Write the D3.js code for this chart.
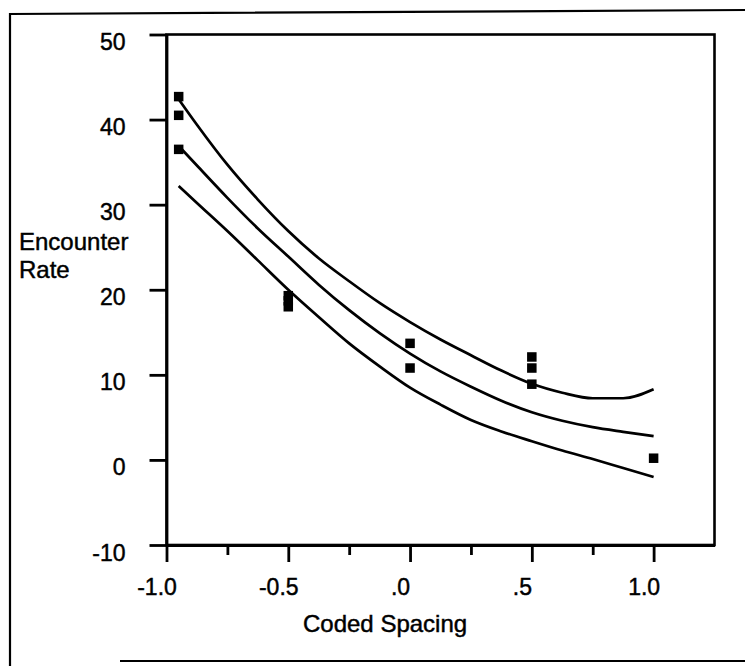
<!DOCTYPE html>
<html>
<head>
<meta charset="utf-8">
<script src="https://cdn.jsdelivr.net/npm/d3@7"></script>
<style>
  body { margin: 0; background: #fff; }
  svg text { font-family: "Liberation Sans", Arial, Helvetica, sans-serif; fill: #000; stroke: #000; stroke-width: 0.45px; }
</style>
</head>
<body>
<div id="chart"></div>
<script>
// observed points
const pointX = [-0.95, -0.95, -0.95, -0.5, -0.5, -0.5, 0, 0, 0.5, 0.5, 0.5, 1.0];
const pointY = [42.7, 40.5, 36.5, 19.3, 18.7, 18.0, 13.7, 10.8, 12.1, 10.8, 8.9, 0.2];

// fitted curve and its band
const curveX = [-0.95, -0.875, -0.75, -0.625, -0.5, -0.375, -0.25, -0.125, 0, 0.125, 0.25, 0.375, 0.5, 0.625, 0.75, 0.875, 1.0];
const upper  = [42.4, 39.4, 34.7, 30.6, 26.9, 23.7, 21.0, 18.45, 16.2, 14.15, 12.3, 10.5, 8.95, 7.9, 7.25, 7.25, 8.3];
const middle = [36.9, 34.6, 30.8, 27.2, 23.9, 20.6, 17.6, 14.9, 12.5, 10.4, 8.6, 6.95, 5.6, 4.6, 3.85, 3.3, 2.8];
const lower  = [32.2, 30.2, 26.9, 23.45, 20.0, 16.8, 13.7, 11.0, 8.5, 6.5, 4.7, 3.35, 2.2, 1.1, 0.1, -0.95, -2.0];

const xMajor = [-1.0, -0.5, 0, 0.5, 1.0];
const xLabels = ["-1.0", "-0.5", ".0", ".5", "1.0"];
const xMinor = [-0.75, -0.25, 0.25, 0.75];
const yTicks = [-10, 0, 10, 20, 30, 40, 50];

const width = 745, height = 666;

const svg = d3.select("#chart").append("svg")
    .attr("width", width)
    .attr("height", height);

const x = d3.scaleLinear([-1, 1.25], [166.5, 714.5]);
const y = d3.scaleLinear([-10, 50], [545, 34.5]);

// outer frame of the scanned figure
svg.append("path")
    .attr("d", "M10,666 L10,14 L745,10 M120,661 L745,661")
    .attr("fill", "none")
    .attr("stroke", "#000")
    .attr("stroke-width", 2.2);

// plot box (top and right edges)
svg.append("rect")
    .attr("x", x(-1))
    .attr("y", y(50))
    .attr("width", x(1.25) - x(-1))
    .attr("height", y(-10) - y(50))
    .attr("fill", "none")
    .attr("stroke", "#000")
    .attr("stroke-width", 2.6);

const yAxis = svg.append("g")
    .attr("transform", `translate(${x(-1)},0)`)
    .call(d3.axisLeft(y).tickValues(yTicks).tickSize(17).tickSizeOuter(0).tickFormat(d => String(d)));

yAxis.selectAll("line, path").attr("stroke", "#000").attr("stroke-width", 2.8);
yAxis.selectAll("text")
    .attr("x", -41)
    .attr("dy", 15)
    .style("font-size", "23px");

const xAxis = svg.append("g")
    .attr("transform", `translate(0,${y(-10)})`)
    .call(d3.axisBottom(x).tickValues(xMajor).tickSize(17).tickSizeOuter(0)
        .tickFormat((d, i) => xLabels[i]));

xAxis.selectAll("line, path").attr("stroke", "#000").attr("stroke-width", 2.8);
xAxis.selectAll("text")
    .attr("y", 50)
    .attr("dy", 0)
    .attr("dx", -10)
    .style("font-size", "23px");

svg.append("g")
    .attr("transform", `translate(0,${y(-10)})`)
    .call(d3.axisBottom(x).tickValues(xMinor).tickSize(10).tickSizeOuter(0).tickFormat(""))
    .call(g => g.select(".domain").remove())
    .selectAll("line").attr("stroke", "#000").attr("stroke-width", 2.8);

// curves
const line = d3.line()
    .x((d, i) => x(curveX[i]))
    .y(d => y(d))
    .curve(d3.curveMonotoneX);

svg.append("g")
    .selectAll("path")
    .data([upper, middle, lower])
    .join("path")
    .attr("d", d => line(d))
    .attr("fill", "none")
    .attr("stroke", "#000")
    .attr("stroke-width", 2.7);

// points
const size = 9.5;
svg.append("g")
    .selectAll("rect")
    .data(pointX.map((v, i) => [v, pointY[i]]))
    .join("rect")
    .attr("x", d => x(d[0]) - size / 2)
    .attr("y", d => y(d[1]) - size / 2)
    .attr("width", size)
    .attr("height", size)
    .attr("fill", "#000");

// axis titles
svg.append("text")
    .attr("x", x(0) - 25)
    .attr("y", 632)
    .attr("text-anchor", "middle")
    .style("font-size", "24px")
    .text("Coded Spacing");

const yTitle = svg.append("text")
    .attr("x", 19)
    .attr("y", 250)
    .style("font-size", "24px");
yTitle.append("tspan").attr("x", 19).text("Encounter");
yTitle.append("tspan").attr("x", 19).attr("dy", 28).text("Rate");
</script>
</body>
</html>
